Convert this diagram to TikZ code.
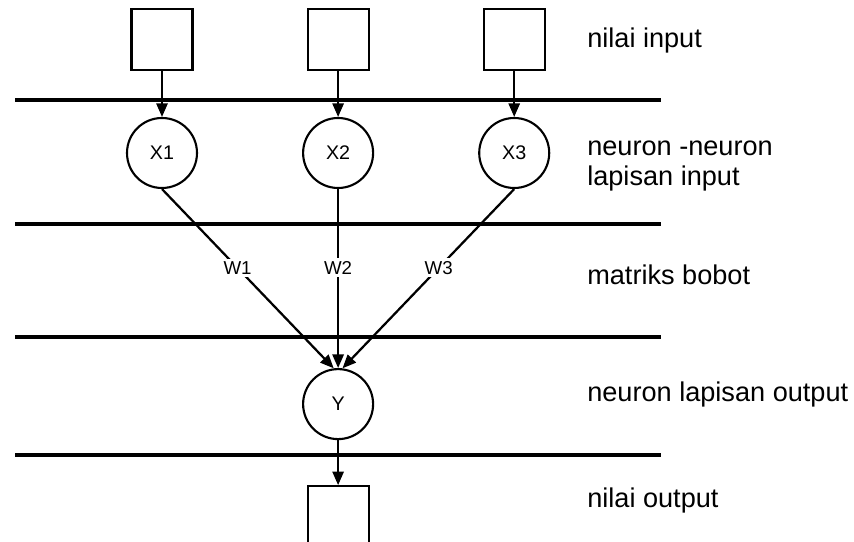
\documentclass[tikz,border=0pt]{standalone}
\usepackage{fontspec}
\setmainfont{Liberation Sans}
\usetikzlibrary{shapes, arrows.meta, positioning}

\begin{document}
\begin{tikzpicture}[node distance=2.6cm,
    neuron/.style={draw, circle, line width=1.5pt, minimum size=1.75cm, inner sep=0pt, font=\fontsize{14}{16}\selectfont},
    value/.style={draw, rectangle, line width=1.5pt, minimum size=1.525cm},
    layer/.style={line width=2.2pt},
    link/.style={->, line width=1.6pt},
    weight/.style={fill=white, inner sep=2pt, pos=0.44, font=\fontsize{13.3}{15}\selectfont},
    caption/.style={anchor=base west, align=left, inner sep=0pt, font=\fontsize{19.3}{22}\selectfont},
    >={Triangle[length=3.4mm, width=2.8mm]}]
        \useasboundingbox (0,0) rectangle (21.35,-13.55);

        % Draw the neurons
        \node (x1) [neuron] at (4.05,-3.825) {X1};
        \node (x2) [neuron, right=of x1] {X2};
        \node (x3) [neuron, right=of x2] {X3};
        \node (y)  [neuron, below=4.475cm of x2] {Y};

        % Draw the value boxes
        \node (in1) [value, above=1.15cm of x1] {};
        \node (in2) [value, above=1.15cm of x2] {};
        \node (in3) [value, above=1.15cm of x3] {};
        \node (out) [value, below=1.125cm of y] {};

        % Draw the layer borders
        \foreach \ly in {-2.5, -5.6, -8.425, -11.375}
            \draw [layer] (0.375,\ly) -- (16.525,\ly);

        % Draw the connecting lines
        \draw [link] (in1) -- (x1);
        \draw [link] (in2) -- (x2);
        \draw [link] (in3) -- (x3);
        \draw [link] (x1.south) -- node [weight] {W1} (y.97);
        \draw [link] (x2.south) -- node [weight] {W2} (y.north);
        \draw [link] (x3.south) -- node [weight] {W3} (y.83);
        \draw [link] (y) -- (out);

        % Add the layer names
        \node (lin)  [caption] at (14.675,-1.2)   {nilai input};
        \node (lx)   [caption] at (14.675,-4.65)  {neuron -neuron\\lapisan input};
        \node (lw)   [caption] at (14.675,-7.125) {matriks bobot};
        \node (ly)   [caption] at (14.675,-10.05) {neuron lapisan output};
        \node (lout) [caption] at (14.675,-12.7)  {nilai output};
\end{tikzpicture}
\end{document}
